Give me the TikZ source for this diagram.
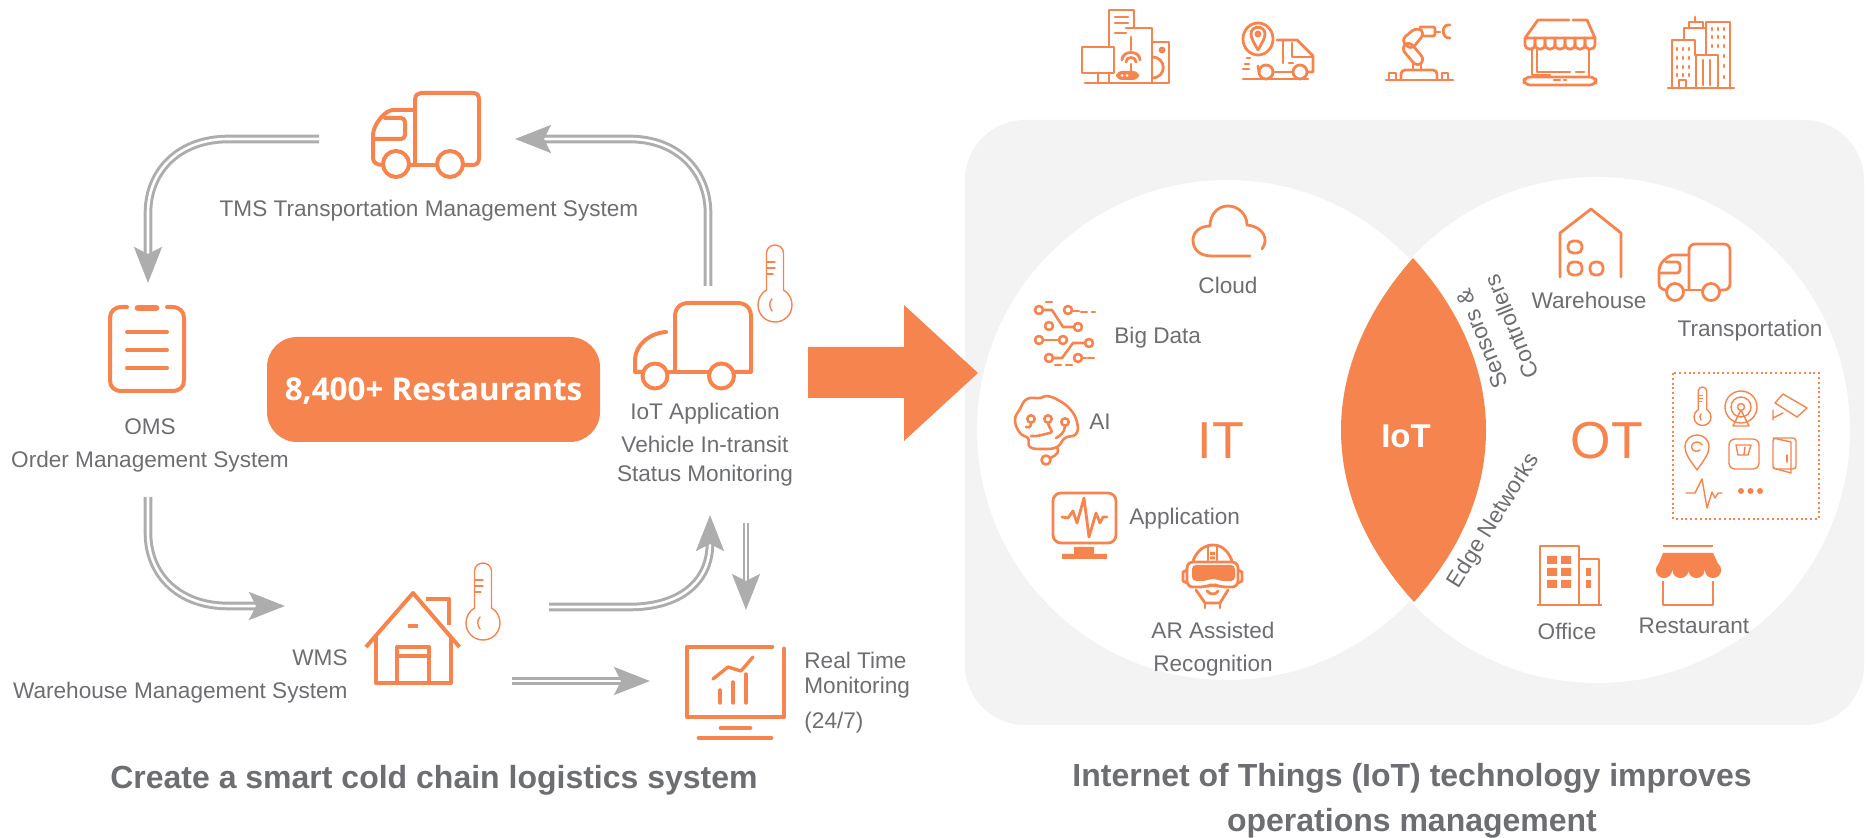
\documentclass[tikz,border=0pt]{standalone}
\usepackage{fontspec}
\setmainfont{Liberation Sans}
\newfontfamily\opensans{Open Sans}
\usetikzlibrary{arrows.meta}
\definecolor{orng}{HTML}{F6844E}
\definecolor{txt}{HTML}{6D6E71}
\definecolor{agray}{HTML}{ADADAD}
\definecolor{panel}{HTML}{F3F3F3}
\tikzset{
 ic/.style={draw=orng,line width=2pt,line join=round,line cap=round},
 icm/.style={draw=orng,line width=1.4pt,line join=round,line cap=round},
 ict/.style={draw=orng,line width=0.7pt,line join=round,line cap=round},
 lab/.style={text=txt,font=\fontsize{11.3}{13}\selectfont,inner sep=0pt},
 title/.style={text=txt,font=\bfseries\fontsize{16}{18}\selectfont,inner sep=0pt},
 flow/.style={draw=agray,line width=1.5pt,double=white,double distance=1.3pt,
   -{Stealth[length=18pt,width=14pt,inset=3.5pt]}},
 flowthin/.style={flow,line width=1.2pt,double distance=1pt},
}
\newcommand{\thermo}[3]{%
 \begin{scope}[shift={(#1,#2)},scale=#3]
 \draw[ict] (-8.5,-15) -- (-8.5,-52) .. controls (-8.5,-57) and (-4,-60) .. (0,-60) .. controls (4,-60) and (8.5,-57) .. (8.5,-52) -- (8.5,-15)
   .. controls (14,-12) and (17,-6) .. (17,0) .. controls (17,10) and (9,17) .. (0,17) .. controls (-9,17) and (-17,10) .. (-17,0) .. controls (-17,-6) and (-14,-12) .. (-8.5,-15);
 \draw[ict] (-8.5,-43)--(0,-43) (-8.5,-37)--(0,-37) (-8.5,-31)--(-2,-31);
 \draw[ict] (-3,-6) .. controls (-6,-3) and (-6,2) .. (-3,6);
 \end{scope}}
\begin{document}
\begin{tikzpicture}[x=0.5pt,y=-0.5pt]
\useasboundingbox (0,0) rectangle (1869,838);
% panel and circles
\fill[panel,rounded corners=30pt] (965,120) rectangle (1864,725);
\fill[white] (1227,430) circle (250);
\fill[white] (1597,430) circle (253);
\fill[orng] (1413,258) .. controls (1365,312) and (1341,372) .. (1341,430) .. controls (1341,490) and (1365,548) .. (1414,602)
  .. controls (1462,548) and (1486,490) .. (1486,430) .. controls (1486,372) and (1462,312) .. (1413,258) -- cycle;
\node[text=white,font=\bfseries\fontsize{16.5}{18}\selectfont,inner sep=0pt] (iot) at (1406,436) {IoT};
\node[text=orng,font=\fontsize{26}{28}\selectfont,inner sep=0pt] (it) at (1221,441) {IT};
\node[text=orng,font=\fontsize{26}{28}\selectfont,inner sep=0pt] (ot) at (1607,441) {OT};
% big arrow
\fill[orng] (808,347) -- (904,347) -- (904,305) -- (978,373) -- (904,441) -- (904,398) -- (808,398) -- cycle;
% restaurants box
\node[fill=orng,rounded corners=15pt,minimum width=166.5pt,minimum height=52.5pt,inner sep=0pt,text=white,text height=12pt,text depth=1pt,font=\opensans\bfseries\fontsize{15.7}{18}\selectfont] (rest) at (433.5,389.5) {8,400+ Restaurants};
% connector ends
\coordinate (a1) at (319,139); \coordinate (a2) at (148,283);
\coordinate (b1) at (708,286); \coordinate (b2) at (515,139);
\coordinate (c1) at (148,497); \coordinate (c2) at (285,606);
\coordinate (d1) at (549,607); \coordinate (d2) at (710,515);
\coordinate (e1) at (746,523); \coordinate (e2) at (746,610);
\coordinate (f1) at (512,681); \coordinate (f2) at (650,681);
\draw[flow] (a1) -- (228,139) .. controls (180,139) and (148,170) .. (148,213) -- (a2);
\draw[flow] (b1) -- (708,213) .. controls (708,170) and (676,139) .. (630,139) -- (b2);
\draw[flow] (c1) -- (148,533) .. controls (148,576) and (180,606) .. (228,606) -- (c2);
\draw[flow] (d1) -- (630,607) .. controls (676,607) and (710,585) .. (d2);
\draw[flowthin] (e1) -- (e2);
\draw[flow] (f1) -- (f2);
% TMS truck
\draw[ic] (415,165) -- (415,100) .. controls (415,95) and (418,93) .. (421,93) -- (473,93) .. controls (477,93) and (479,95) .. (479,100) -- (479,158) .. controls (479,162) and (477,165) .. (473,165) -- (463,165);
\draw[ic] (415,110) -- (393,110) .. controls (385,110) and (373,125) .. (373,135) -- (373,158) .. controls (373,162) and (376,165) .. (383,165);
\draw[ic,rounded corners=2pt] (374,139) -- (405,139) -- (405,118) -- (385,118);
\draw[ic] (409,165) -- (437,165);
\draw[ic] (396,164) circle (13) (450,164) circle (13);
\node[lab] (tms) at (429,210.5) {TMS Transportation Management System};
% OMS clipboard
\draw[ic] (127,307) -- (122,307) .. controls (114,307) and (110,312) .. (110,318) -- (110,380) .. controls (110,387) and (114,391) .. (122,391) -- (172,391) .. controls (180,391) and (184,387) .. (184,380) -- (184,318) .. controls (184,312) and (180,307) .. (172,307) -- (167,307);
\draw[orng,line width=3.4pt,line cap=round] (138,308) -- (156,308);
\draw[ic] (127,332) -- (167,332) (127,350) -- (167,350) (127,368) -- (167,368);
\node[lab] (oms) at (150,427) {OMS};
\node[lab] (omsl) at (150,462) {Order Management System};
% IoT truck
\draw[ic] (675,372) -- (675,317) .. controls (675,308) and (680,303) .. (689,303) -- (737,303) .. controls (746,303) and (751,308) .. (751,317) -- (751,372) -- (735,372);
\draw[ic] (669,372) -- (708,372);
\draw[ic] (666,332) .. controls (650,333) and (635,345) .. (635,360) -- (635,372) -- (642,372);
\draw[ic] (655,376) circle (12.5) (721.5,376) circle (12.5);
\thermo{775}{305}{1}
\node[lab] (iota) at (705,414) {IoT Application};
\node[lab,align=center] (iotb) at (705,461) {Vehicle In-transit\\[1.5pt]Status Monitoring};
% WMS house
\draw[ic,line cap=butt] (366,647) -- (413,593) -- (459.5,647);
\draw[ic,line cap=butt] (376,637) -- (376,683) -- (451,683) -- (451,637);
\draw[ic,line cap=butt] (426,599) -- (449,599) -- (449,625);
\fill[orng] (408,624) rectangle (418,628);
\draw[ic,line cap=butt] (397,683) -- (397,647) -- (429,647) -- (429,683);
\draw[ic,line cap=butt] (397,656) -- (429,656);
\thermo{483}{623}{1}
\node[lab,anchor=east] (wms) at (348,658) {WMS};
\node[lab,anchor=east] (wmsl) at (348,693) {Warehouse Management System};
% monitor
\draw[ic,line width=2.4pt] (772,647) -- (687,647) -- (687,717) -- (784,717) -- (784,649);
\draw[ic,line width=2.4pt] (721,728) -- (750,728) (699,738) -- (771,738);
\draw[ic,line width=1.7pt] (720,690) -- (720,703) (733,682) -- (733,703) (746,674) -- (746,703);
\draw[ic,line width=1.7pt] (713,679) -- (728,667) -- (741,671) -- (753,657);
\node[lab,anchor=west] (rt1) at (804,660) {Real Time};
\node[lab,anchor=west] (rt2) at (804,688) {Monitoring};
\node[lab,anchor=west] (rt3) at (804,723) {(24/7)};
% titles
\node[title] (t1) at (434,780) {Create a smart cold chain logistics system};
\node[title,align=center] (t2) at (1412,801) {Internet of Things (IoT) technology improves\\[4.5pt]operations management};
% top icon 1
\begin{scope}[every path/.style={icm}]
\draw (1109,47) -- (1109,10) -- (1134,10) -- (1134,28);
\draw (1115,17) -- (1128,17) (1115,23) -- (1128,23) (1115,33) -- (1126,33);
\draw (1126,28) -- (1152,28) -- (1152,83);
\draw (1131,37) -- (1131,50);
\draw (1082,47) rectangle (1114,73);
\draw (1098,73) -- (1098,83) (1109,73) -- (1109,83);
\draw (1085,83) -- (1169,83) -- (1169,42) -- (1152,42);
\draw (1162,50) circle (2);
\draw (1152,57) .. controls (1167,57) and (1167,78) .. (1152,78);
\draw (1122,60) .. controls (1122,50) and (1140,50) .. (1140,60);
\draw (1126,62) .. controls (1126,56) and (1136,56) .. (1136,62);
\draw (1131,64) -- (1131,71);
\end{scope}
\fill[orng,rounded corners=3pt] (1116,71) rectangle (1139,80);
\fill[white] (1122,75.5) circle (1.5) (1127,75.5) circle (1.5);
% top icon 2
\begin{scope}[every path/.style={icm}]
\draw (1258,39) ellipse (15 and 16);
\draw (1258,50) .. controls (1254,43) and (1251,38) .. (1251,34) .. controls (1251,25) and (1265,25) .. (1265,34) .. controls (1265,38) and (1262,43) .. (1258,50);
\draw (1258,34) circle (2);
\draw (1277,40) -- (1297,40) -- (1313,56) -- (1313,72) -- (1308,72);
\draw (1283,40) -- (1283,63);
\draw (1292,43) -- (1292,57) -- (1313,57);
\draw (1266,72) circle (7) (1300,72) circle (7);
\draw (1274,72) -- (1292,72);
\draw (1243,79) -- (1308,79);
\draw (1247,58) -- (1250,58) (1245,64) -- (1249,64) (1243,69) -- (1249,69) (1289,63) -- (1293,63);
\draw (1259,72) -- (1258,66);
% top icon 3
\draw (1386,80) -- (1453,80);
\draw (1389,80) -- (1389,73) -- (1396,73) -- (1396,80) (1442,80) -- (1442,73) -- (1448,73) -- (1448,80);
\draw[rounded corners=2pt] (1401,80) -- (1401,70) -- (1437,70) -- (1437,80);
\draw (1413,70) -- (1413,63) (1421,70) -- (1421,63);
\draw[rounded corners=3pt] (1401,48) -- (1409,41) -- (1425,60) -- (1417,67) -- cycle;
\draw[rounded corners=3pt] (1401,40) -- (1417,27) -- (1425,33) -- (1411,50) -- cycle;
\draw[rounded corners=1pt] (1420,27) -- (1435,27) -- (1435,36) -- (1424,36);
\draw (1435,32) -- (1440,32);
\draw (1450,25) .. controls (1441,23) and (1441,39) .. (1450,38);
% top icon 4
\draw (1569,20) -- (1538,20) -- (1525,38) -- (1595,38) -- (1587,20) -- (1573,20);
\foreach \q in {1525,1535,...,1585} {\draw (\q,38) -- (\q,44) .. controls (\q,51) and (\q+10,51) .. (\q+10,44) -- (\q+10,38);}
\draw (1532,50) -- (1532,75) -- (1550,75);
\draw (1537,50) -- (1537,72) -- (1570,72) (1576,72) -- (1584,72);
\draw (1589,50) -- (1589,77);
\draw[rounded corners=3pt] (1524,77) -- (1524,85) -- (1596,85) -- (1596,77) -- cycle;
\draw (1554,80) -- (1560,80) (1564,80) -- (1566,80);
% top icon 5
\draw (1668,88) -- (1734,88);
\draw (1672,88) -- (1672,40) -- (1695,40) -- (1695,55);
\draw (1684,40) -- (1684,28) -- (1706,28);
\draw (1689,28) -- (1689,22) -- (1703,22) -- (1703,28);
\draw (1695,22) -- (1695,17);
\draw (1706,55) -- (1706,22) -- (1730,22) -- (1730,88);
\draw (1696,88) -- (1696,55) -- (1718,55) -- (1718,88);
\draw (1703,60) -- (1703,85) (1710,60) -- (1710,85);
\draw (1679,88) -- (1679,80) -- (1686,80) -- (1686,88);
\foreach \q in {1677,1683,1689} \foreach \r in {48,57,66,74} {\draw (\q,\r) -- (\q,\r+2);}
\foreach \q in {1712,1718,1724} \foreach \r in {28,36,45} {\draw (\q,\r) -- (\q,\r+2);}
\draw (1724,55) -- (1724,57) (1724,65) -- (1724,67) (1724,76) -- (1724,78);
\end{scope}
% cloud
\draw[icm] (1250,256) -- (1212,256) .. controls (1200,256) and (1193,250) .. (1193,240) .. controls (1193,232) and (1200,226) .. (1210,226) .. controls (1210,214) and (1218,206) .. (1228,206) .. controls (1238,206) and (1247,214) .. (1247,225) .. controls (1257,226) and (1265,232) .. (1265,240) .. controls (1265,244) and (1264,246) .. (1262,249);
\node[lab] (cloud) at (1228,285) {Cloud};
% big data
\begin{scope}[every path/.style={ict,line width=1.3pt}]
\draw (1043,310) -- (1052,310) -- (1063,327) -- (1074,327);
\draw (1072,311) -- (1079,311);
\draw[dash pattern=on 3pt off 2.5pt] (1081,312) -- (1095,312);
\draw (1043,340) -- (1059,340);
\draw (1085,343) -- (1073,343) -- (1062,358) -- (1053,358);
\draw (1082,358) -- (1086,358);
\draw[dash pattern=on 3pt off 2.5pt] (1088,358) -- (1096,358);
\draw[dash pattern=on 3pt off 2.5pt] (1055,365) -- (1075,365);
\draw[dash pattern=on 3pt off 2.5pt] (1046,302) -- (1057,302);
\draw (1039,310) circle (4) (1068,310) circle (4) (1078,327) circle (4) (1049,326) circle (4) (1039,340) circle (4) (1063,340) circle (4) (1089,343) circle (4) (1049,358) circle (4) (1078,358) circle (4);
\end{scope}
\node[lab,anchor=west] (bigd) at (1114,338) {Big Data};
% brain
\begin{scope}[every path/.style={ict,line width=1.3pt}]
\draw plot[smooth cycle,tension=0.75] coordinates {(1028,438) (1020,433) (1015,420) (1020,409) (1027,399) (1040,398) (1047,396) (1058,400) (1070,409) (1077,422) (1076,434) (1065,438) (1057,447) (1043,449) (1030,447)};
\draw (1031,419) circle (3.7) (1048,419) circle (3.7) (1065,422) circle (3.7) (1046,460) circle (4.5);
\draw (1031,423) .. controls (1031,428) and (1028,428) .. (1026,427);
\draw (1048,423) .. controls (1050,430) and (1054,432) .. (1050,433) .. controls (1044,434) and (1038,437) .. (1031,436);
\draw (1065,426) .. controls (1065,432) and (1060,436) .. (1056,438);
\draw (1057,447) .. controls (1060,452) and (1057,455) .. (1050,458);
\end{scope}
\node[lab,anchor=west] (ai) at (1089,421.5) {AI};
% application
\draw[icm,rounded corners=4pt] (1053,493) rectangle (1116,543);
\fill[orng] (1074,547) rectangle (1094,554) (1062,554) rectangle (1107,559);
\draw[icm] (1062,517) -- (1068,518) -- (1073,511) -- (1077,523) -- (1084,498) -- (1089,537) -- (1096,513) -- (1100,523) -- (1103,517) -- (1107,517);
\node[lab,anchor=west] (app) at (1129,519) {Application};
% VR
\draw[icm] (1193,561) .. controls (1197,550) and (1205,545) .. (1213,545) .. controls (1221,545) and (1228,550) .. (1232,561);
\draw[icm] (1208,547) -- (1208,560) (1217,547) -- (1217,560);
\fill[orng] (1210,552) rectangle (1215,555) (1210,556.5) rectangle (1215,559.5);
\draw[icm,rounded corners=3pt] (1187,587) -- (1187,562) -- (1238,562) -- (1238,587) -- (1220,587) -- (1213,584) -- (1206,587) -- cycle;
\fill[orng,rounded corners=2pt] (1192,565) -- (1235,565) -- (1235,581) -- (1220,581) -- (1213,578) -- (1206,581) -- (1192,581) -- cycle;
\draw[icm] (1187,570) -- (1183,572) -- (1183,581) -- (1187,583) (1238,570) -- (1242,572) -- (1242,581) -- (1238,583);
\draw[icm] (1196,590) -- (1205,603) -- (1220,603) -- (1228,590);
\draw[icm] (1205,603) -- (1205,608) (1220,603) -- (1220,608);
\draw[icm] (1207,591) .. controls (1210,595) and (1216,595) .. (1218,591);
\node[lab,align=center] (ar) at (1213,649) {AR Assisted\\[3.5pt]Recognition};
% rotated labels
\node[lab,rotate=58] (edge) at (1494,521) {Edge Networks};
\node[lab,rotate=112,align=center,font=\fontsize{11.3}{16}\selectfont] (sens) at (1497,333) {Sensors \&\\Controllers};
% warehouse icon
\draw[icm] (1560,277) -- (1560,233) -- (1591,209) -- (1621,233) -- (1621,277);
\draw[icm,rounded corners=2.5pt] (1568,241) rectangle (1582,253) (1568,262) rectangle (1582,275) (1590,262) rectangle (1603,275);
\node[lab] (ware) at (1589,300) {Warehouse};
% transport truck
\draw[icm,rounded corners=3pt] (1689,289) -- (1689,244) -- (1730,244) -- (1730,290) -- (1721,290);
\draw[icm] (1689,255) -- (1672,255) .. controls (1666,257) and (1659,264) .. (1659,270) -- (1659,283) .. controls (1659,287) and (1661,289) .. (1665,290);
\draw[icm,rounded corners=1.5pt] (1660,273) -- (1680,273) -- (1680,262) -- (1666,262);
\draw[icm] (1685,290) -- (1701,290);
\draw[icm] (1675,292) circle (8.5) (1711,292) circle (8.5);
\node[lab] (trans) at (1750,331) {Transportation};
% dotted box
\draw[orng,line width=1pt,dash pattern=on 1pt off 1.4pt] (1673,373) rectangle (1819,519);
\thermo{1702.5}{417}{0.5}
\draw[ict] (1741,407) circle (16) (1741,407) circle (10) (1741,407) circle (3.5);
\draw[ict] (1741,410) -- (1733,426) -- (1749,426) -- cycle;
\draw[ict] (1783,394) -- (1807,408) -- (1797,417) -- (1775,403) -- cycle;
\draw[ict] (1773,410) -- (1773,420) (1773,418) -- (1783,413);
\draw[ict] (1697,470) .. controls (1690,460) and (1685,454) .. (1685,447) .. controls (1685,431) and (1709,431) .. (1709,447) .. controls (1709,454) and (1704,460) .. (1697,470);
\draw[ict] (1700,450) .. controls (1694,454) and (1690,448) .. (1692,445) .. controls (1694,441) and (1700,441) .. (1702,445);
\draw[ict,rounded corners=3pt] (1729,439) rectangle (1759,469);
\draw[ict] (1736,445) -- (1751,445) -- (1748,455) -- (1738,455) -- cycle (1745,447) -- (1744,454);
\draw[ict,rounded corners=1.5pt] (1773,438) rectangle (1796,469);
\draw[ict] (1773,438) -- (1791,442) -- (1791,473) -- (1773,468);
\draw[ict] (1787,455) -- (1787,462);
\draw[ict] (1686,493) -- (1695,493) -- (1702,479) -- (1707,508) -- (1712,492) -- (1715,498) -- (1718,493) -- (1722,493);
\fill[orng] (1741,491) circle (3) (1750.5,491) circle (3) (1760,491) circle (3);
% office
\draw[icm,line cap=butt] (1537,605) -- (1602,605);
\draw[icm,line cap=butt] (1540,605) -- (1540,546) -- (1579,546) -- (1579,605);
\draw[icm,line cap=butt] (1579,559) -- (1599,559) -- (1599,605);
\foreach \r in {556,568,580} {\fill[orng] (1547,\r) rectangle (1557,\r+8) (1561,\r) rectangle (1571,\r+8);}
\foreach \r in {568,580} {\fill[orng] (1586,\r) rectangle (1591,\r+8);}
\node[lab] (off) at (1567,631) {Office};
% restaurant
\draw[icm,line cap=butt] (1663,546) -- (1713,546);
\fill[orng] (1663,553) -- (1713,553) -- (1721,570) -- (1656,570) -- cycle;
\fill[orng] (1664,570) circle (8.1) (1680.5,570) circle (8.1) (1696.5,570) circle (8.1) (1713,570) circle (8.1);
\draw[icm,line cap=butt] (1663,581) -- (1663,605) -- (1713,605) -- (1713,581);
\node[lab] (rst) at (1694,626) {Restaurant};
\end{tikzpicture}
\end{document}
